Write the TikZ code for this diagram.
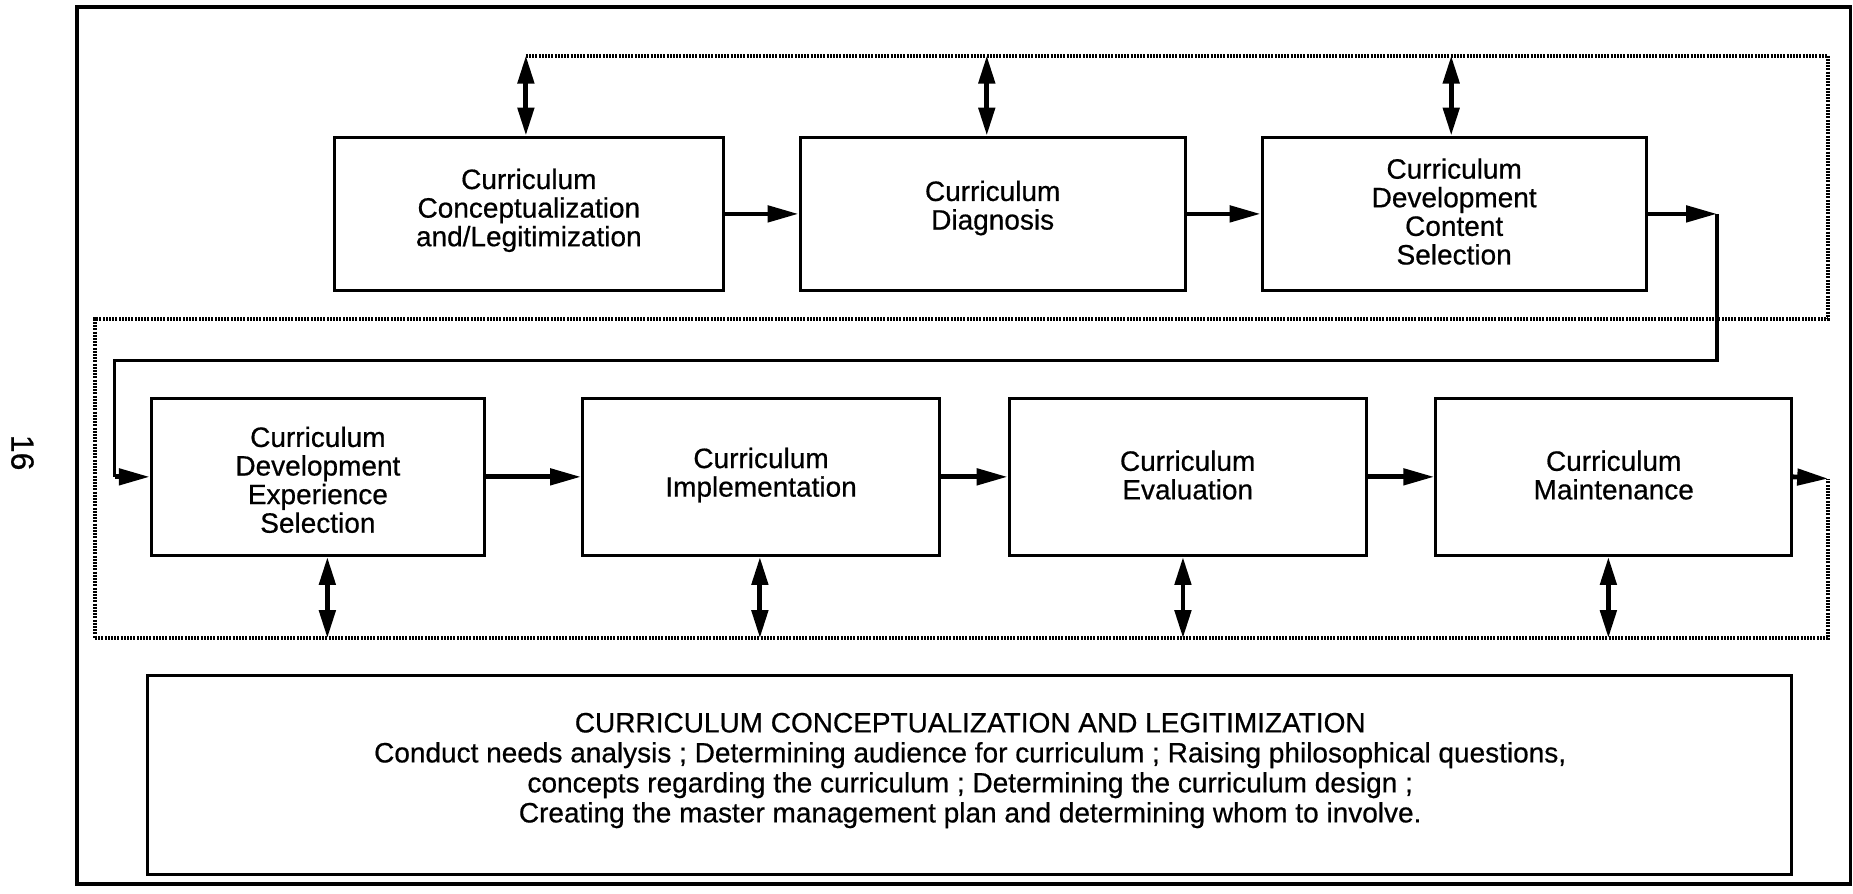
\documentclass[tikz,border=0pt]{standalone}
\usepackage{fontspec}
\setmainfont{Liberation Sans}[FakeBold=0.6]
\usetikzlibrary{arrows.meta,calc}
\begin{document}
\begin{tikzpicture}[x=0.5909pt,y=-0.5909pt,
  box/.style={draw,line width=1.5pt,inner sep=0pt},
  txt/.style={align=center,inner sep=0pt,font=\fontsize{14}{14.3}\selectfont},
  toprow/.style={box,minimum height=76.8pt},
  botrow/.style={box,minimum height=78.6pt},
  flow/.style={line width=2.4pt,-{Triangle[length=15.5pt,width=8pt]}},
  loopline/.style={line width=1.8pt},
  dbl/.style={line width=2.4pt,{Triangle[length=14pt,width=8pt]}-{Triangle[length=14pt,width=8pt]}},
  dots/.style={line width=2pt,dash pattern=on 1pt off 0.6pt}]
\useasboundingbox (0,0) rectangle (1568,756);

% outer frame
\draw[line width=1.8pt] (65,6) rectangle (1566,748) coordinate (frameBR);
\node[rotate=-90,font=\fontsize{16}{18}\selectfont] (pg) at (19,383) {16};

% top row
\node[toprow,minimum width=194.4pt] (b1) at (447.5,181) {};
\node[txt] (b1t) at (447.5,178) {Curriculum\\Conceptualization\\and/Legitimization};
\node[toprow,minimum width=192.6pt] (b2) at (840,181) {};
\node[txt] (b2t) at (840,176) {Curriculum\\Diagnosis};
\node[toprow,minimum width=192.0pt] (b3) at (1230.5,181) {};
\node[txt] (b3t) at (1230.5,179) {Curriculum\\Development\\Content\\Selection};

% bottom row
\node[botrow,minimum width=166.6pt] (b4) at (269,403.5) {};
\node[txt] (b4t) at (269,406) {Curriculum\\Development\\Experience\\Selection};
\node[botrow,minimum width=178.5pt] (b5) at (644,403.5) {};
\node[txt] (b5t) at (644,402) {Curriculum\\Implementation};
\node[botrow,minimum width=178.5pt] (b6) at (1005,403.5) {};
\node[txt] (b6t) at (1005,402) {Curriculum\\Evaluation};
\node[botrow,minimum width=177.9pt] (b7) at (1365.5,403.5) {};
\node[txt] (b7t) at (1365.5,402) {Curriculum\\Maintenance};

% info box
\node[box,minimum width=822pt,minimum height=99.3pt] (info) at (820.5,656) {};
\node[txt,font=\fontsize{14}{15}\selectfont] (infot) at (821,652)
 {CURRICULUM CONCEPTUALIZATION AND LEGITIMIZATION\\
  Conduct needs analysis ; Determining audience for curriculum ; Raising philosophical questions,\\
  concepts regarding the curriculum ; Determining the curriculum design ;\\
  Creating the master management plan and determining whom to involve.};

% dotted feedback lines
\coordinate (t1) at (445,47);
\coordinate (t2) at (835,47);
\coordinate (t3) at (1228,47);
\coordinate (tr) at (1547,47);
\coordinate (mr) at (1547,270);
\coordinate (ml) at (80,270);
\coordinate (bl) at (80,540);
\coordinate (br) at (1547,540);
\coordinate (mt) at (1547,405);
\draw[dots] (t1) -- (tr) -- (mr) -- (ml) -- (bl) -- (br) -- (mt);

\coordinate (d4) at (277,540);
\coordinate (d5) at (643,540);
\coordinate (d6) at (1001,540);
\coordinate (d7) at (1361,540);

% vertical double arrows
\draw[dbl] (t1) -- (t1 |- b1.north);
\draw[dbl] (t2) -- (t2 |- b2.north);
\draw[dbl] (t3) -- (t3 |- b3.north);
\draw[dbl] (d4 |- b4.south) -- (d4);
\draw[dbl] (d5 |- b5.south) -- (d5);
\draw[dbl] (d6 |- b6.south) -- (d6);
\draw[dbl] (d7 |- b7.south) -- (d7);

% flow arrows
\draw[flow] (b1.east) -- (b2.west);
\draw[flow] (b2.east) -- (b3.west);
\coordinate (c1) at (1453,181);
\coordinate (c2) at (1453,305);
\coordinate (c3) at (97,305);
\coordinate (c4) at (97,403.5);
\draw[flow] (b3.east) -- (c1);
\draw[loopline] (c1) -- (c2) -- (c3) -- (c4);
\draw[flow] (c4) -- (b4.west);
\draw[flow] (b4.east) -- (b5.west);
\draw[flow] (b5.east) -- (b6.west);
\draw[flow] (b6.east) -- (b7.west);
\draw[flow] (b7.east) -- (mt);
\end{tikzpicture}
\end{document}
